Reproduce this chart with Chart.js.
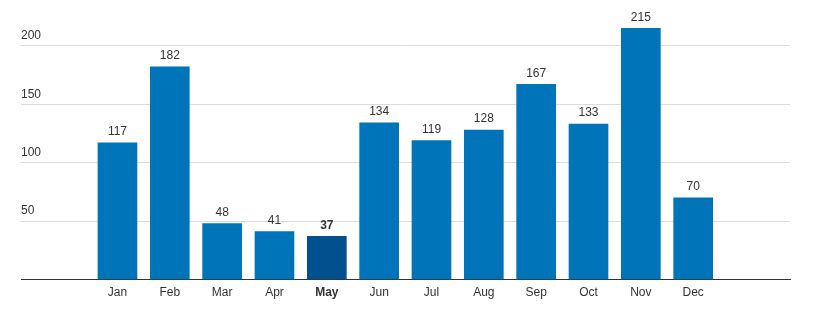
<!DOCTYPE html>
<html>
<head>
<meta charset="utf-8">
<script src="https://cdn.jsdelivr.net/npm/chart.js@4/dist/chart.umd.min.js"></script>
<style>
  html, body { margin:0; padding:0; background:#fff; }
  #wrap { width:818px; height:324px; position:relative; }
</style>
</head>
<body>
<div id="wrap"><canvas id="chart"></canvas></div>
<script>
// Monthly totals
const months = ['Jan','Feb','Mar','Apr','May','Jun','Jul','Aug','Sep','Oct','Nov','Dec'];
const totals = [117, 182, 48, 41, 37, 134, 119, 128, 167, 133, 215, 70];
const yTicks = [0, 50, 100, 150, 200];
const highlight = 4; // May

const barColor  = '#0074b8';
const hiColor   = '#02508e';
const textColor = '#333333';
const fontFamily = '"Liberation Sans", Arial, Helvetica, sans-serif';

// Values above bars
const valueLabels = {
  id:'valueLabels',
  afterDatasetsDraw(chart){
    const ctx = chart.ctx;
    const meta = chart.getDatasetMeta(0);
    ctx.save();
    ctx.textAlign = 'center';
    ctx.textBaseline = 'middle';
    ctx.fillStyle = textColor;
    meta.data.forEach((bar, i)=>{
      ctx.font = (i===highlight ? 'bold ' : '') + '12px ' + fontFamily;
      ctx.fillText(String(totals[i]), bar.x, bar.y - 11);
    });
    ctx.restore();
  }
};

new Chart(document.getElementById('chart').getContext('2d'), {
  type:'bar',
  data:{
    datasets:[{
      data: totals.map((v,i)=>({x:i, y:v})),
      backgroundColor: totals.map((v,i)=> i===highlight ? hiColor : barColor),
      barThickness: 39,
      borderWidth: 0
    }]
  },
  options:{
    responsive:true,
    maintainAspectRatio:false,
    animation:false,
    layout:{ padding:{ left:21, right:28, top:0, bottom:18 } },
    plugins:{ legend:{ display:false }, tooltip:{ enabled:false } },
    scales:{
      x:{
        type:'linear',
        offset:false,
        min:-1.843,
        max:12.85,
        grid:{ display:false, drawTicks:false },
        border:{ display:true, color:'#333', width:1 },
        afterBuildTicks(axis){ axis.ticks = months.map((m,i)=>({value:i})); },
        ticks:{
          padding:6,
          autoSkip:false,
          maxRotation:0,
          color:textColor,
          font:(c)=>({ family:fontFamily, size:12, weight: c.index===highlight ? 'bold' : 'normal' }),
          callback:(v)=> months[v]
        }
      },
      y:{
        min:0,
        max:233,
        afterBuildTicks(axis){ axis.ticks = yTicks.map(v=>({value:v})); },
        grid:{
          drawTicks:false,
          color:(c)=> c.tick && c.tick.value===0 ? '#333' : '#dcdcdc',
          lineWidth:1
        },
        border:{ display:false },
        ticks:{
          mirror:true,
          padding:0,
          labelOffset:-10,
          color:textColor,
          font:{ family:fontFamily, size:12 },
          callback:(v)=> v===0 ? '' : v
        }
      }
    }
  },
  plugins:[valueLabels]
});
</script>
</body>
</html>
